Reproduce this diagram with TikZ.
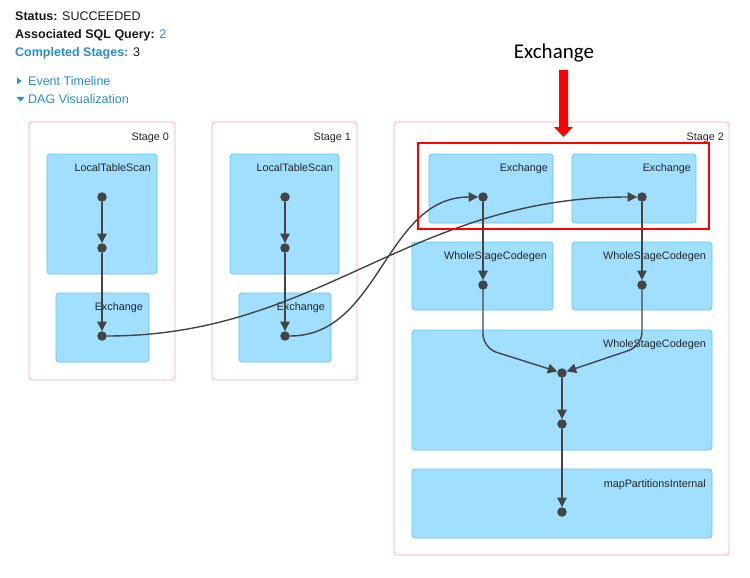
\documentclass[tikz,border=0pt]{standalone}
\usepackage{fontspec}
\setmainfont{Liberation Sans}
\newfontfamily\calibri{Carlito}
\usetikzlibrary{arrows.meta}

\definecolor{stagepink}{HTML}{F9A9BA}
\definecolor{clusterfill}{HTML}{A0DFFF}
\definecolor{clusterline}{HTML}{62C6F5}
\definecolor{dotgray}{HTML}{444444}
\definecolor{linkblue}{HTML}{2A8CD2}

\tikzset{
  stagebox/.style={draw=stagepink, fill=white, rounded corners=3pt, line width=0.8pt},
  clusterbox/.style={draw=clusterline, fill=clusterfill, rounded corners=3pt, line width=0.8pt},
  boxlabel/.style={anchor=base east, inner sep=0pt, font=\fontsize{10.8}{12}\selectfont, text=black!85},
  dot/.style={circle, fill=dotgray, inner sep=0pt, minimum size=9.5pt},
  edge/.style={draw=dotgray, line width=1.4pt, -{Triangle[length=9.5pt,width=9.5pt]}},
  infotext/.style={anchor=base west, inner sep=0pt, font=\fontsize{12.5}{14}\selectfont, text=black!90},
}

\begin{document}
\begin{tikzpicture}[x=1pt, y=-1pt]
  \useasboundingbox (0,0) rectangle (750,578);

  % job info
  \node[infotext] (status) at (15,21) {\textbf{Status:} SUCCEEDED};
  \node[infotext] (query) at (15,39) {\textbf{Associated SQL Query:} \textcolor{linkblue}{2}};
  \node[infotext] (stages) at (15,57) {\textcolor{linkblue}{\textbf{Completed Stages:}} 3};
  \fill[linkblue] (17,77.5) -- (21.5,81) -- (17,84.5) -- cycle;
  \node[infotext, text=linkblue] (timeline) at (28,85) {Event Timeline};
  \fill[linkblue] (16.5,97) -- (24.5,97) -- (20.5,101.5) -- cycle;
  \node[infotext, text=linkblue] (dagviz) at (28,103) {DAG Visualization};

  % Stage 0
  \draw[stagebox] (29,122) rectangle (175,380);
  \node[boxlabel] (s0lbl) at (169,140) {Stage 0};
  \draw[clusterbox] (47,154) rectangle (157,274);
  \node[boxlabel] (s0scanlbl) at (151,171) {LocalTableScan};
  \draw[clusterbox] (56,293) rectangle (149,362);
  \node[boxlabel] (s0exlbl) at (143,310) {Exchange};
  \node[dot] (s0a) at (102,197) {};
  \node[dot] (s0b) at (102,248) {};
  \node[dot] (s0c) at (102,336) {};

  % Stage 1
  \draw[stagebox] (212,122) rectangle (357,380);
  \node[boxlabel] (s1lbl) at (351,140) {Stage 1};
  \draw[clusterbox] (230,154) rectangle (339,274);
  \node[boxlabel] (s1scanlbl) at (333,171) {LocalTableScan};
  \draw[clusterbox] (239,293) rectangle (331,362);
  \node[boxlabel] (s1exlbl) at (325,310) {Exchange};
  \node[dot] (s1a) at (285,197) {};
  \node[dot] (s1b) at (285,248) {};
  \node[dot] (s1c) at (285,336) {};

  % Stage 2
  \draw[stagebox] (394,122) rectangle (729,555);
  \node[boxlabel] (s2lbl) at (724,140) {Stage 2};
  \draw[clusterbox] (429,154) rectangle (553,223);
  \node[boxlabel] (s2xalbl) at (548,171) {Exchange};
  \draw[clusterbox] (572,154) rectangle (696,223);
  \node[boxlabel] (s2xblbl) at (691,171) {Exchange};
  \draw[clusterbox] (412,242) rectangle (553,310);
  \node[boxlabel] (s2walbl) at (547,259) {WholeStageCodegen};
  \draw[clusterbox] (572,242) rectangle (712,310);
  \node[boxlabel] (s2wblbl) at (706,259) {WholeStageCodegen};
  \draw[clusterbox] (412,330) rectangle (712,450);
  \node[boxlabel] (s2mlbl) at (706,347) {WholeStageCodegen};
  \draw[clusterbox] (412,469) rectangle (712,538);
  \node[boxlabel] (s2plbl) at (706,487) {mapPartitionsInternal};
  \node[dot] (s2xa) at (483,197) {};
  \node[dot] (s2xb) at (642,197) {};
  \node[dot] (s2wa) at (483,285) {};
  \node[dot] (s2wb) at (642,285) {};
  \node[dot] (s2m) at (562,373) {};
  \node[dot] (s2n) at (562,424) {};
  \node[dot] (s2p) at (562,512) {};

  % edges
  \draw[edge] (s0a) -- (s0b);
  \draw[edge] (s0b) -- (s0c);
  \draw[edge] (s1a) -- (s1b);
  \draw[edge] (s1b) -- (s1c);
  \draw[edge] (s0c) .. controls (320,336) and (410,197) .. (s2xb);
  \draw[edge] (s1c) .. controls (380,336) and (385,197) .. (s2xa);
  \draw[edge] (s2xa) -- (s2wa);
  \draw[edge] (s2xb) -- (s2wb);
  \draw[edge, rounded corners=14pt] (s2wa) -- (483,348) -- (s2m);
  \draw[edge, rounded corners=14pt] (s2wb) -- (642,346) -- (s2m);
  \draw[edge] (s2m) -- (s2n);
  \draw[edge] (s2n) -- (s2p);

  % highlight
  \draw[red, line width=2.5pt] (418,143) rectangle (709,229);
  \node[anchor=base, inner sep=0pt, font=\calibri\fontsize{21}{24}\selectfont] (exnote) at (554,59) {Exchange};
  \fill[red] (559,70) -- (568,70) -- (568,127) -- (573,127) -- (563.5,137)
    -- (554,127) -- (559,127) -- cycle;

\end{tikzpicture}
\end{document}
